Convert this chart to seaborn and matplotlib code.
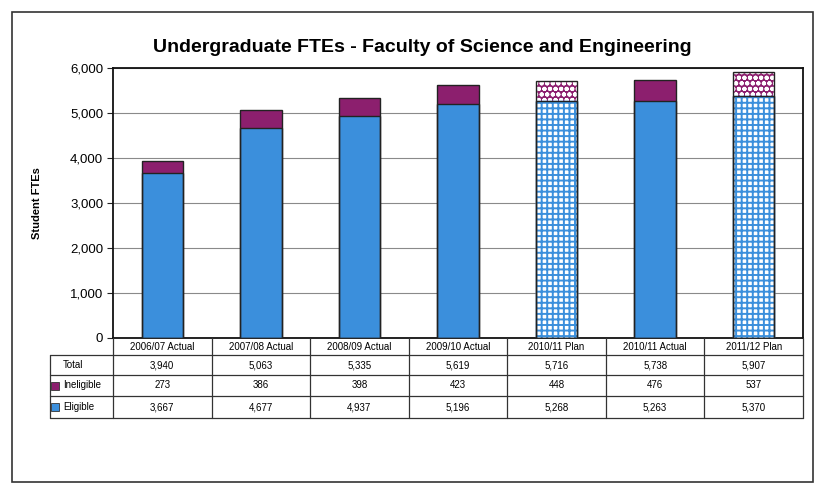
import numpy as np
import pandas as pd
import matplotlib.pyplot as plt
from matplotlib.patches import Rectangle
import seaborn as sns

# data
years = ["2006/07 Actual", "2007/08 Actual", "2008/09 Actual", "2009/10 Actual",
         "2010/11 Plan", "2010/11 Actual", "2011/12 Plan"]
total = [3940, 5063, 5335, 5619, 5716, 5738, 5907]
ineligible = [273, 386, 398, 423, 448, 476, 537]
eligible = [3667, 4677, 4937, 5196, 5268, 5263, 5370]
plan_idx = [i for i, y in enumerate(years) if "Plan" in y]

blue = "#3b8fdc"
purple = "#8c1f6e"

sns.set_style("white")
plt.rcParams["font.family"] = ["Liberation Sans", "DejaVu Sans"]
plt.rcParams["hatch.linewidth"] = 1.4
for key in ["text.color", "axes.labelcolor", "xtick.color", "ytick.color"]:
    plt.rcParams[key] = "black"

fig = plt.figure(figsize=(8.2, 4.98), dpi=100)
W, H = 820, 498

#outer frame around the whole chart
fig.add_artist(Rectangle((12 / W, 1 - 482 / H), 801 / W, 470 / H, fill=False,
                         ec="#333333", lw=1.2, transform=fig.transFigure))

fig.text(422 / W, 1 - 47 / H, "Undergraduate FTEs - Faculty of Science and Engineering",
         ha="center", va="center", fontsize=14, fontweight="bold")

ax = fig.add_axes([113 / W, 1 - 338 / H, 690 / W, 270 / H])
df = pd.DataFrame({"year": years, "total": total, "eligible": eligible})

#stack: full total in purple, eligible drawn over it in blue
sns.barplot(data=df, x="year", y="total", order=years, color=purple, saturation=1,
            width=0.42, ax=ax, zorder=2)
sns.barplot(data=df, x="year", y="eligible", order=years, color=blue, saturation=1,
            width=0.42, ax=ax, zorder=3)

n = len(years)
bars = list(ax.patches)
for k, p in enumerate(bars):
    i = k % n
    if i in plan_idx:
        if k < n:
            p.set_facecolor(purple)
            p.set_edgecolor("white")
            p.set_hatch("ooo")
        else:
            p.set_facecolor("white")
            p.set_edgecolor(blue)
            p.set_hatch("+++")
    else:
        p.set_edgecolor("none")
    ax.add_patch(Rectangle(p.get_xy(), p.get_width(), p.get_height(), fill=False,
                           ec="#222222", lw=1.0, zorder=4))

ax.set_ylim(0, 6000)
ax.set_xlim(-0.5, n - 0.5)
ax.set_yticks(np.arange(0, 6001, 1000))
ax.set_yticklabels([f"{v:,}" for v in range(0, 6001, 1000)], fontsize=9.5)
ax.yaxis.grid(True, color="#8a8a8a", lw=0.8)
ax.set_axisbelow(True)
ax.tick_params(axis="y", length=4, color="#222222", left=True, pad=3)
ax.tick_params(axis="x", length=0, labelbottom=False)
ax.set_xlabel("")
ax.set_ylabel("Student FTEs", fontsize=8, fontweight="bold", labelpad=20)
for s in ax.spines.values():
    s.set_color("#111111")
    s.set_linewidth(1.3)

#data table under the plot, columns lined up with the bars
unit = 690 / n
left = -0.5 - 63 / unit
tab = fig.add_axes([50 / W, 1 - 418 / H, 753 / W, 80 / H])
tab.set_xlim(left, n - 0.5)
tab.set_ylim(80, 0)
tab.axis("off")

rows = [("Total", total, None), ("Ineligible", ineligible, purple), ("Eligible", eligible, blue)]
edges = [0, 17, 37, 58, 80]
lc = "#333333"
for y in edges[1:]:
    tab.plot([left, n - 0.5], [y, y], color=lc, lw=0.9, clip_on=False)
for k in range(n + 1):
    tab.plot([k - 0.5, k - 0.5], [0, 80], color=lc, lw=0.9, clip_on=False)
tab.plot([left, left], [edges[1], 80], color=lc, lw=0.9, clip_on=False)

for i, y in enumerate(years):
    tab.text(i, (edges[0] + edges[1]) / 2, y, ha="center", va="center", fontsize=7)

for r, (name, vals, col) in enumerate(rows):
    yc = (edges[r + 1] + edges[r + 2]) / 2
    if col is not None:
        tab.plot([left + 0.05], [yc], marker="s", ms=5.5, color=col, mec="#333333", mew=0.6)
    tab.text(left + 0.13, yc, name, ha="left", va="center", fontsize=7)
    for i, v in enumerate(vals):
        tab.text(i, yc, f"{v:,}", ha="center", va="center", fontsize=7)

fig.savefig("out.png", dpi=100)
